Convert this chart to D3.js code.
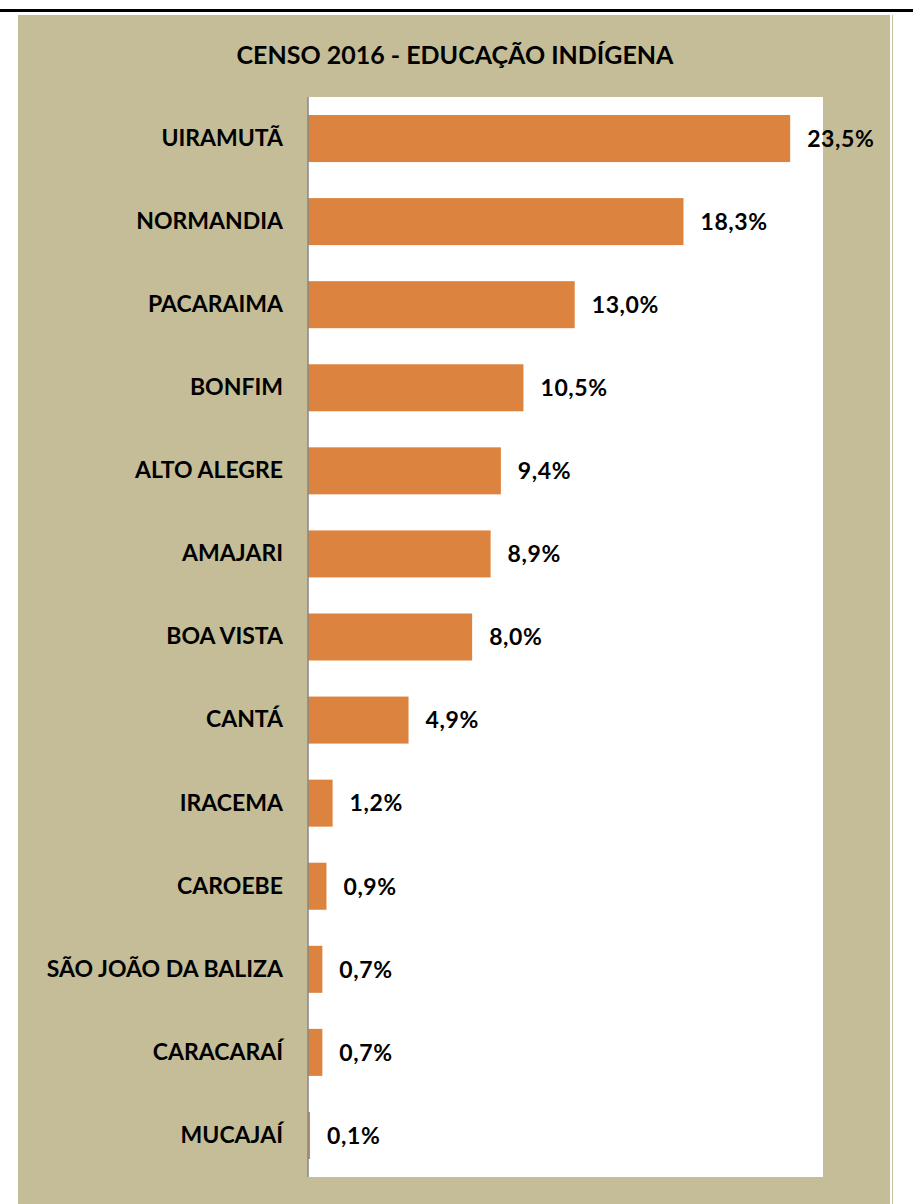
<!DOCTYPE html>
<html>
<head>
<meta charset="utf-8">
<script src="https://cdn.jsdelivr.net/npm/d3@7"></script>
<style>
  body { margin: 0; background: #fff; }
  text { font-family: Lato, "Open Sans", sans-serif; font-weight: bold; }
</style>
</head>
<body>
<div id="chart"></div>
<script>
const municipios = ["UIRAMUTÃ", "NORMANDIA", "PACARAIMA", "BONFIM", "ALTO ALEGRE", "AMAJARI",
  "BOA VISTA", "CANTÁ", "IRACEMA", "CAROEBE", "SÃO JOÃO DA BALIZA", "CARACARAÍ", "MUCAJAÍ"];
const percentuais = [23.5, 18.3, 13.0, 10.5, 9.4, 8.9, 8.0, 4.9, 1.2, 0.9, 0.7, 0.7, 0.1];
const titulo = "CENSO 2016 - EDUCAÇÃO INDÍGENA";

const W = 913, H = 1204;
const plot = {left: 308, top: 97, right: 823, bottom: 1177};

const svg = d3.select("#chart")
    .append("svg")
    .attr("width", W)
    .attr("height", H);

// top rule
svg.append("rect")
    .attr("x", 0).attr("y", 9)
    .attr("width", W).attr("height", 3)
    .attr("fill", "#000");

// chart background
svg.append("rect")
    .attr("x", 18).attr("y", 15)
    .attr("width", 872).attr("height", H - 15)
    .attr("fill", "#C4BD97");

svg.append("line")
    .attr("x1", 892.5).attr("x2", 892.5)
    .attr("y1", 15).attr("y2", H)
    .attr("stroke", "#C9C3A6");

// plot area
svg.append("rect")
    .attr("x", plot.left).attr("y", plot.top)
    .attr("width", plot.right - plot.left)
    .attr("height", plot.bottom - plot.top)
    .attr("fill", "#fff");

svg.append("text")
    .attr("x", 455).attr("y", 64)
    .attr("text-anchor", "middle")
    .attr("font-size", 25)
    .attr("fill", "#000")
    .text(titulo);

const x = d3.scaleLinear()
    .domain([0, 25.1])
    .range([plot.left, plot.right]);

const y = d3.scaleBand()
    .domain(municipios)
    .range([plot.top, plot.bottom])
    .paddingInner(0.434)
    .paddingOuter(0.217);

const data = municipios.map((m, i) => ({nome: m, valor: percentuais[i]}));

svg.selectAll(".bar")
    .data(data)
    .join("rect")
    .attr("class", "bar")
    .attr("x", x(0))
    .attr("y", d => y(d.nome))
    .attr("width", d => x(d.valor) - x(0))
    .attr("height", y.bandwidth())
    .attr("fill", "#DC843F");

// category axis
const yAxis = svg.append("g")
    .attr("transform", `translate(${plot.left},0)`)
    .call(d3.axisLeft(y).tickSize(0).tickPadding(25));

yAxis.select(".domain")
    .attr("stroke", "#878787")
    .attr("stroke-width", 1.5)
    .attr("d", `M0,${plot.top}V${plot.bottom}`);

yAxis.selectAll("text")
    .attr("font-size", 23)
    .attr("font-family", "Lato, sans-serif")
    .attr("font-weight", "bold")
    .attr("fill", "#000");

svg.selectAll(".rotulo")
    .data(data)
    .join("text")
    .attr("class", "rotulo")
    .attr("x", d => x(d.valor) + 17)
    .attr("y", d => y(d.nome) + y.bandwidth() / 2)
    .attr("dy", "0.36em")
    .attr("font-size", 23)
    .attr("letter-spacing", 0.6)
    .attr("fill", "#000")
    .text(d => d.valor.toFixed(1).replace(".", ",") + "%");
</script>
</body>
</html>
